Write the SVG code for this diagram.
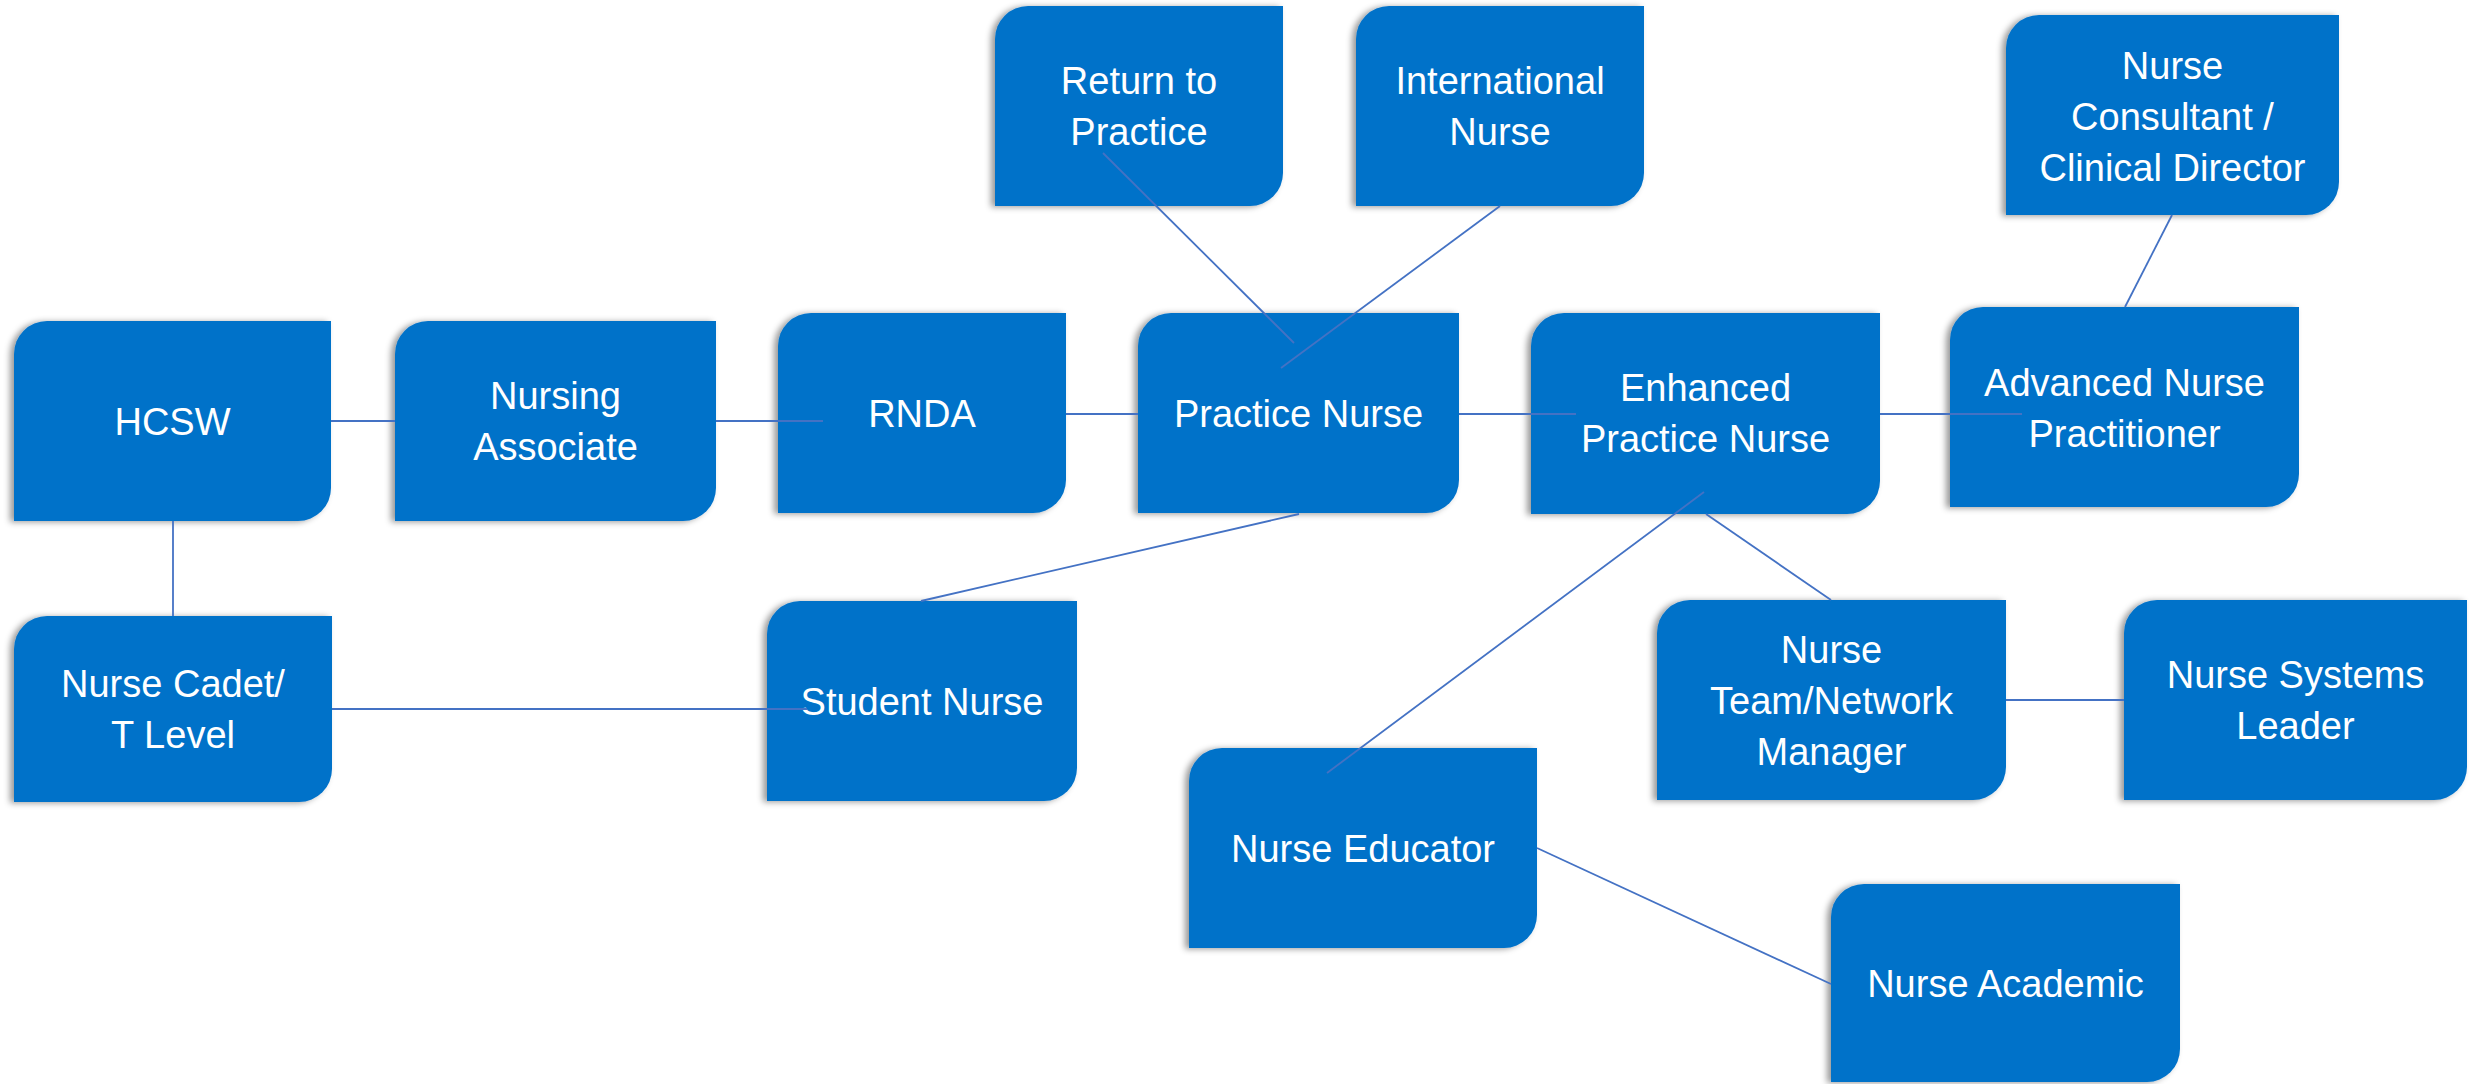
<svg xmlns="http://www.w3.org/2000/svg" width="2469" height="1084" viewBox="0 0 2469 1084">
<style>
.box{fill:#0072C9;filter:url(#sh)}
.lbl{fill:#ffffff;font-family:"Liberation Sans",Arial,sans-serif;font-size:38px;text-anchor:middle}
.con line{stroke:#4472C4;stroke-width:1.8;fill:none}
</style>
<defs>
<filter id="sh" x="-10%" y="-10%" width="120%" height="120%">
<feDropShadow dx="-4" dy="1" stdDeviation="3" flood-color="#000" flood-opacity="0.4"/>
</filter>
</defs>
<rect width="2469" height="1084" fill="#ffffff"/>

<g id="n-hcsw"><path class="box" d="M47,321 H331 V488 A33,33 0 0 1 298,521 H14 V354 A33,33 0 0 1 47,321 Z"/>
<text class="lbl" x="172.5" y="434.5">HCSW</text></g>

<g id="n-na"><path class="box" d="M428,321 H716 V488 A33,33 0 0 1 683,521 H395 V354 A33,33 0 0 1 428,321 Z"/>
<text class="lbl" x="555.5" y="409">Nursing</text><text class="lbl" x="555.5" y="460">Associate</text></g>

<g id="n-rnda"><path class="box" d="M811,313 H1066 V480 A33,33 0 0 1 1033,513 H778 V346 A33,33 0 0 1 811,313 Z"/>
<text class="lbl" x="922" y="426.5">RNDA</text></g>

<g id="n-pn"><path class="box" d="M1171,313 H1459 V480 A33,33 0 0 1 1426,513 H1138 V346 A33,33 0 0 1 1171,313 Z"/>
<text class="lbl" x="1298.5" y="426.5">Practice Nurse</text></g>

<g id="n-epn"><path class="box" d="M1564,313 H1880 V481 A33,33 0 0 1 1847,514 H1531 V346 A33,33 0 0 1 1564,313 Z"/>
<text class="lbl" x="1705.5" y="401">Enhanced</text><text class="lbl" x="1705.5" y="452">Practice Nurse</text></g>

<g id="n-anp"><path class="box" d="M1983,307 H2299 V474 A33,33 0 0 1 2266,507 H1950 V340 A33,33 0 0 1 1983,307 Z"/>
<text class="lbl" x="2124.5" y="396">Advanced Nurse</text><text class="lbl" x="2124.5" y="447">Practitioner</text></g>

<g id="n-nc"><path class="box" d="M2039,15 H2339 V182 A33,33 0 0 1 2306,215 H2006 V48 A33,33 0 0 1 2039,15 Z"/>
<text class="lbl" x="2172.5" y="78.5">Nurse</text><text class="lbl" x="2172.5" y="129.5">Consultant /</text><text class="lbl" x="2172.5" y="180.5">Clinical Director</text></g>

<g id="n-rtp"><path class="box" d="M1028,6 H1283 V173 A33,33 0 0 1 1250,206 H995 V39 A33,33 0 0 1 1028,6 Z"/>
<text class="lbl" x="1139" y="94">Return to</text><text class="lbl" x="1139" y="145">Practice</text></g>

<g id="n-int"><path class="box" d="M1389,6 H1644 V173 A33,33 0 0 1 1611,206 H1356 V39 A33,33 0 0 1 1389,6 Z"/>
<text class="lbl" x="1500" y="94">International</text><text class="lbl" x="1500" y="145">Nurse</text></g>

<g id="n-cadet"><path class="box" d="M47,616 H332 V769 A33,33 0 0 1 299,802 H14 V649 A33,33 0 0 1 47,616 Z"/>
<text class="lbl" x="173" y="697">Nurse Cadet/</text><text class="lbl" x="173" y="748">T Level</text></g>

<g id="n-student"><path class="box" d="M800,601 H1077 V768 A33,33 0 0 1 1044,801 H767 V634 A33,33 0 0 1 800,601 Z"/>
<text class="lbl" x="922" y="715">Student Nurse</text></g>

<g id="n-edu"><path class="box" d="M1222,748 H1537 V915 A33,33 0 0 1 1504,948 H1189 V781 A33,33 0 0 1 1222,748 Z"/>
<text class="lbl" x="1363" y="861.5">Nurse Educator</text></g>

<g id="n-team"><path class="box" d="M1690,600 H2006 V767 A33,33 0 0 1 1973,800 H1657 V633 A33,33 0 0 1 1690,600 Z"/>
<text class="lbl" x="1831.5" y="662.5">Nurse</text><text class="lbl" x="1831.5" y="713.5">Team/Network</text><text class="lbl" x="1831.5" y="764.5">Manager</text></g>

<g id="n-sys"><path class="box" d="M2157,600 H2467 V767 A33,33 0 0 1 2434,800 H2124 V633 A33,33 0 0 1 2157,600 Z"/>
<text class="lbl" x="2295.5" y="688">Nurse Systems</text><text class="lbl" x="2295.5" y="739">Leader</text></g>

<g id="n-acad"><path class="box" d="M1864,884 H2180 V1049 A33,33 0 0 1 2147,1082 H1831 V917 A33,33 0 0 1 1864,884 Z"/>
<text class="lbl" x="2005.5" y="996.5">Nurse Academic</text></g>

<g id="connectors" class="con">
<line x1="331" y1="421" x2="395" y2="421"/>
<line x1="716" y1="421" x2="823" y2="421"/>
<line x1="1066" y1="414" x2="1138" y2="414"/>
<line x1="1459" y1="414" x2="1576" y2="414"/>
<line x1="1880" y1="414" x2="2022" y2="414"/>
<line x1="2172" y1="215" x2="2125" y2="307"/>
<line x1="1103" y1="153" x2="1294" y2="343"/>
<line x1="1500" y1="206" x2="1281" y2="368"/>
<line x1="173" y1="521" x2="173" y2="616"/>
<line x1="332" y1="709" x2="807" y2="709"/>
<line x1="921" y1="601" x2="1299" y2="514"/>
<line x1="1704" y1="492" x2="1327" y2="773"/>
<line x1="1706" y1="514" x2="1831" y2="600"/>
<line x1="2006" y1="700" x2="2124" y2="700"/>
<line x1="1537" y1="848" x2="1831" y2="984"/>
</g>
</svg>
